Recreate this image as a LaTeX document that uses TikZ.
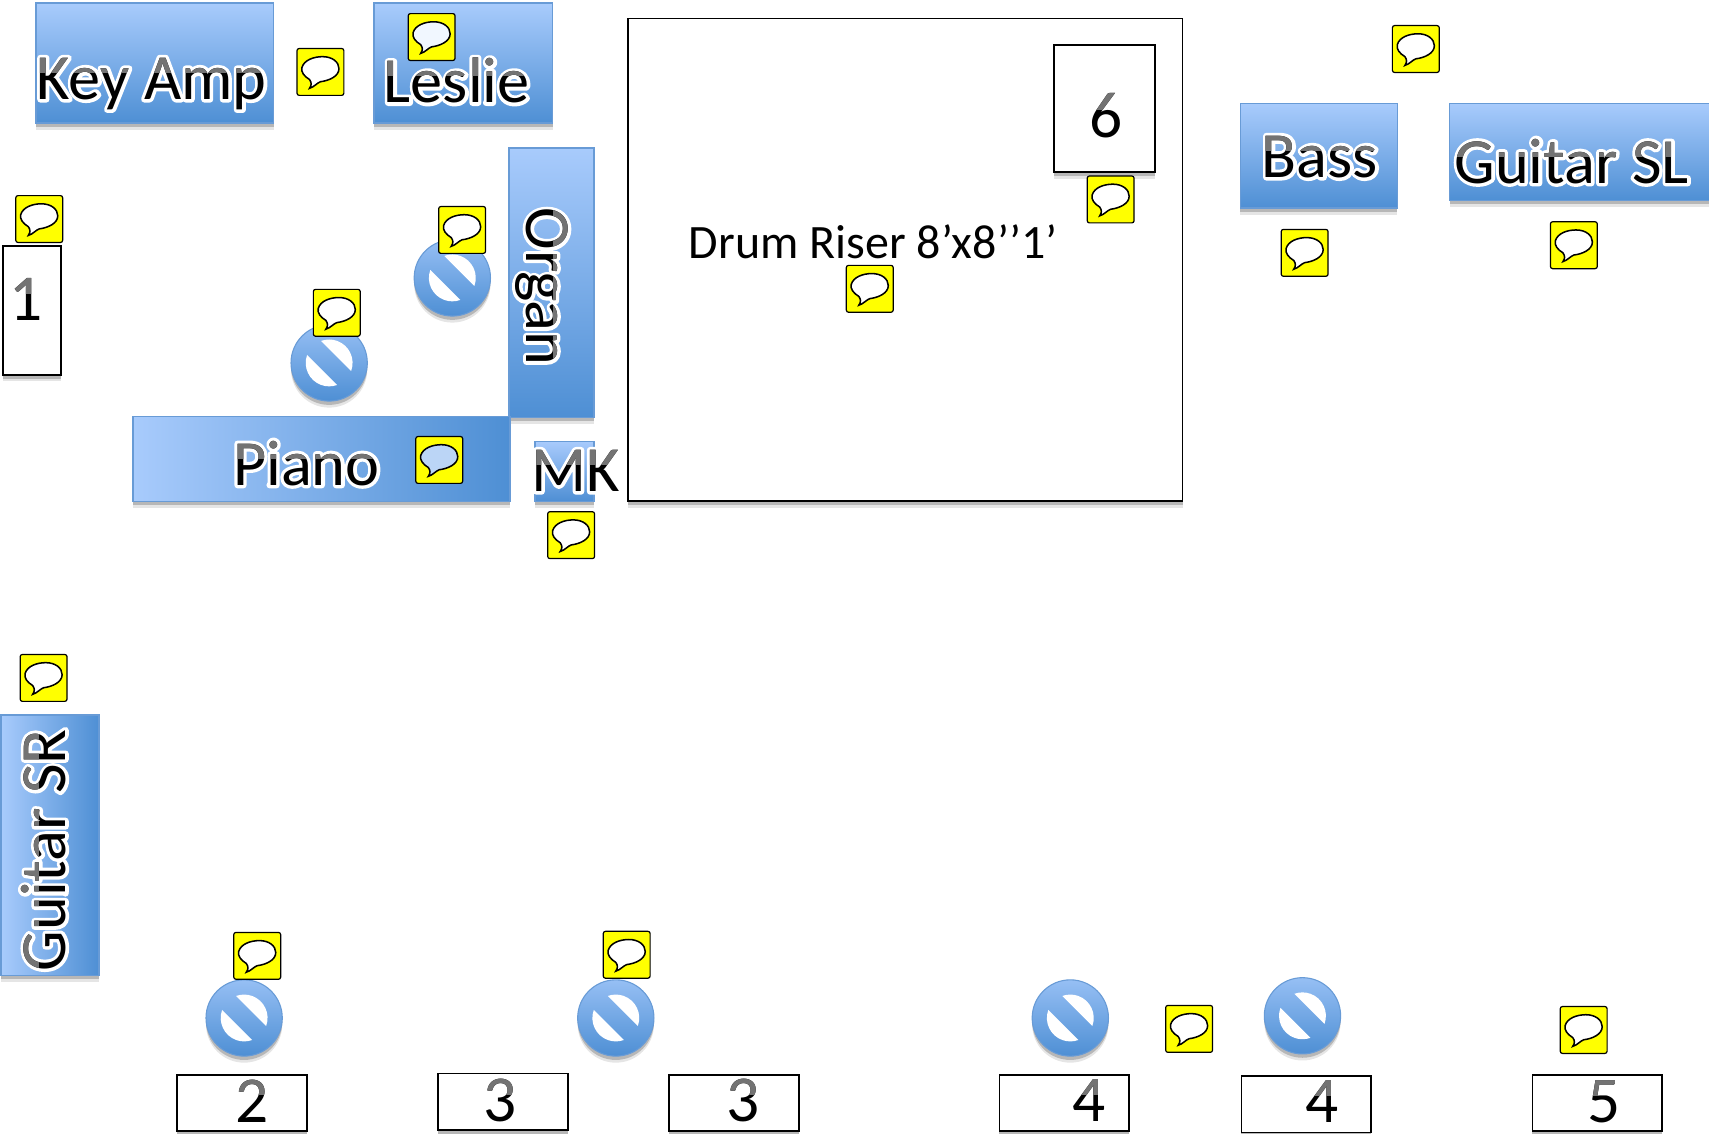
\documentclass[tikz,border=0pt]{standalone}
\usepackage{xcolor}
\usepackage{fontspec}
\setmainfont{Carlito}
\usetikzlibrary{shadows, positioning}
\definecolor{amplight}{RGB}{168,203,252}
\definecolor{ampdark}{RGB}{78,143,212}
\definecolor{ampframe}{RGB}{104,155,214}
\definecolor{noteyellow}{RGB}{255,255,0}
\definecolor{glyphtop}{RGB}{115,115,115}
\newsavebox{\glyphbox}
\newlength{\glyphcut}
\newlength{\glyphtall}
\newcommand{\halo}[1]{%
  \sbox{\glyphbox}{#1}%
  \setlength{\glyphcut}{0.42em}\setlength{\glyphtall}{1em}%
  \rlap{\special{pdf:code q 1 1 1 RG 6 w 1 j 1 J 2 Tr}#1\special{pdf:code Q}}%
  \rlap{\usebox{\glyphbox}}%
  \rlap{\smash{\tikz[baseline=0pt]{\clip (0,\glyphcut) rectangle (\wd\glyphbox,\glyphtall);
    \node[inner sep=0pt, outer sep=0pt, anchor=base west] (glyph) at (0,0) {\textcolor{glyphtop}{#1}};}}}%
  \phantom{\usebox{\glyphbox}}%
}
\tikzset{
  softshadow/.style={
    drop shadow={shadow xshift=0pt, shadow yshift=-6pt, opacity=0.1, fill=black},
    drop shadow={shadow xshift=0pt, shadow yshift=-3.5pt, opacity=0.2, fill=black}},
  ampbox/.style={rectangle, draw=ampframe, line width=1.4pt, top color=amplight, bottom color=ampdark,
    inner sep=0pt, softshadow},
  sideamp/.style={rectangle, draw=ampframe, line width=1.4pt, left color=amplight, right color=ampdark,
    inner sep=0pt, softshadow},
  monbox/.style={rectangle, draw=black, fill=white, line width=1.6pt, inner sep=0pt, softshadow},
  biglabel/.style={inner sep=0pt, font=\fontsize{59}{60}\selectfont},
  numlabel/.style={inner sep=0pt, font=\fontsize{60}{62}\selectfont},
  note/.pic={
    \draw[black, line width=1.1pt, fill=noteyellow, rounded corners=2pt] (-21.5,-21.5) rectangle (21.5,21.5);
    \draw[black, line width=1.4pt, fill=white] (-10,-15)
      .. controls (-8,-12) and (-8,-10) .. (-10,-7)
      .. controls (-15,-4) and (-18,0) .. (-17,4)
      .. controls (-15,11) and (-6,14) .. (2,14)
      .. controls (11,14) and (17,9) .. (17,3)
      .. controls (17,-4) and (8,-8) .. (0,-9)
      .. controls (-3,-10) and (-6,-14) .. (-10,-15) -- cycle;
  },
  tintnote/.pic={
    \draw[black, line width=1.1pt, fill=noteyellow, rounded corners=2pt] (-21.5,-21.5) rectangle (21.5,21.5);
    \draw[black, line width=1.4pt, fill=#1] (-10,-15)
      .. controls (-8,-12) and (-8,-10) .. (-10,-7)
      .. controls (-15,-4) and (-18,0) .. (-17,4)
      .. controls (-15,11) and (-6,14) .. (2,14)
      .. controls (11,14) and (17,9) .. (17,3)
      .. controls (17,-4) and (8,-8) .. (0,-9)
      .. controls (-3,-10) and (-6,-14) .. (-10,-15) -- cycle;
  },
  nosign/.pic={
    \shade[top color=amplight!80!ampdark, bottom color=ampdark, draw=ampframe, line width=1pt,
      softshadow] (0,0) circle (35);
    \fill[white] (45-65:21.5) arc (45-65:45+65:21.5) -- cycle;
    \fill[white] (225-65:21.5) arc (225-65:225+65:21.5) -- cycle;
  }
}
\begin{document}
\begin{tikzpicture}[x=1pt, y=1pt]
  \useasboundingbox (0,-0.4) rectangle (1568,1040);
  % Keyboards
  \node[ampbox, minimum width=218pt, minimum height=110pt] (keyamp) at (142,982) {};
  \node[ampbox, minimum width=164pt, minimum height=110pt] (leslie) at (425,982) {};
  \node[ampbox, minimum width=78pt, minimum height=247pt] (organ) at (506,780.5) {};
  \node[sideamp, minimum width=346pt, minimum height=78pt] (piano) at (295,619) {};
  \node[ampbox, minimum width=54pt, minimum height=55pt] (mk) at (518,607.5) {};
  \node[biglabel] (keyamplabel) at (139,963) {\halo{Key Amp}};
  \node[biglabel] (leslielabel) at (419,966) {\halo{Leslie}};
  \node[biglabel, rotate=-90] (organlabel) at (497,777) {\halo{Organ}};
  \node[biglabel] (pianolabel) at (281,615) {\halo{Piano}};
  \node[biglabel] (mklabel) at (528,608) {\halo{MK}};
  % Drum riser
  \node[monbox, minimum width=509pt, minimum height=443pt] (riser) at (830.5,801.5) {};
  \node[monbox, minimum width=93pt, minimum height=117pt] (mon6) at (1013.5,940.5) {};
  \node[numlabel] (mon6label) at (1015,934) {\halo{6}};
  \node[inner sep=0pt, font=\fontsize{44}{46}\selectfont] (riserlabel) at (801,818) {Drum Riser 8’x8’’1’};
  % Bass and guitars
  \node[ampbox, minimum width=144pt, minimum height=96pt] (bass) at (1210,897) {};
  \node[ampbox, minimum width=240pt, minimum height=89pt] (guitarsl) at (1450,900.5) {};
  \node[sideamp, minimum width=90pt, minimum height=239pt] (guitarsr) at (46,264.5) {};
  \node[biglabel] (basslabel) at (1211,896) {\halo{Bass}};
  \node[biglabel] (guitarsllabel) at (1442,892) {\halo{Guitar SL}};
  \node[biglabel, rotate=90] (guitarsrlabel) at (40,260) {\halo{Guitar SR}};
  % Monitors
  \node[monbox, minimum width=53pt, minimum height=118pt] (mon1) at (29.5,755) {};
  \node[monbox, minimum width=119pt, minimum height=52pt] (mon2) at (222,28) {};
  \node[monbox, minimum width=119pt, minimum height=52pt] (mon3a) at (461.5,29) {};
  \node[monbox, minimum width=119pt, minimum height=52pt] (mon3b) at (673.5,28) {};
  \node[monbox, minimum width=119pt, minimum height=52pt] (mon4a) at (976.5,28) {};
  \node[monbox, minimum width=119pt, minimum height=52pt] (mon4b) at (1198.5,27) {};
  \node[monbox, minimum width=119pt, minimum height=52pt] (mon5) at (1465.5,28) {};
  \node[numlabel] (mon1label) at (24,765) {\halo{1}};
  \node[numlabel] (mon2label) at (231,30) {\halo{2}};
  \node[numlabel] (mon3alabel) at (459,30) {\halo{3}};
  \node[numlabel] (mon3blabel) at (682,30) {\halo{3}};
  \node[numlabel] (mon4alabel) at (999,30) {\halo{4}};
  \node[numlabel] (mon4blabel) at (1213,29) {\halo{4}};
  \node[numlabel] (mon5label) at (1472,29) {\halo{5}};
  % No-monitor signs
  \pic at (415,785) {nosign};
  \pic at (302,707) {nosign};
  \pic at (224,106) {nosign};
  \pic at (565,106) {nosign};
  \pic at (982,106) {nosign};
  \pic at (1195,108) {nosign};
  % Notes
  \pic at (294,974) {note};
  \pic at (396,1006) {tintnote={white!84!amplight}};
  \pic at (36,839) {note};
  \pic at (424,829) {note};
  \pic at (309,753) {note};
  \pic at (403,618) {tintnote={ampdark!30!amplight!60!white}};
  \pic at (524,549) {note};
  \pic at (798,775) {note};
  \pic at (1019,857) {note};
  \pic at (1299,995) {note};
  \pic at (1197,808) {note};
  \pic at (1444,815) {note};
  \pic at (40,418) {note};
  \pic at (236,163) {note};
  \pic at (575,164) {note};
  \pic at (1091,96) {note};
  \pic at (1453,95) {note};
\end{tikzpicture}
\end{document}
